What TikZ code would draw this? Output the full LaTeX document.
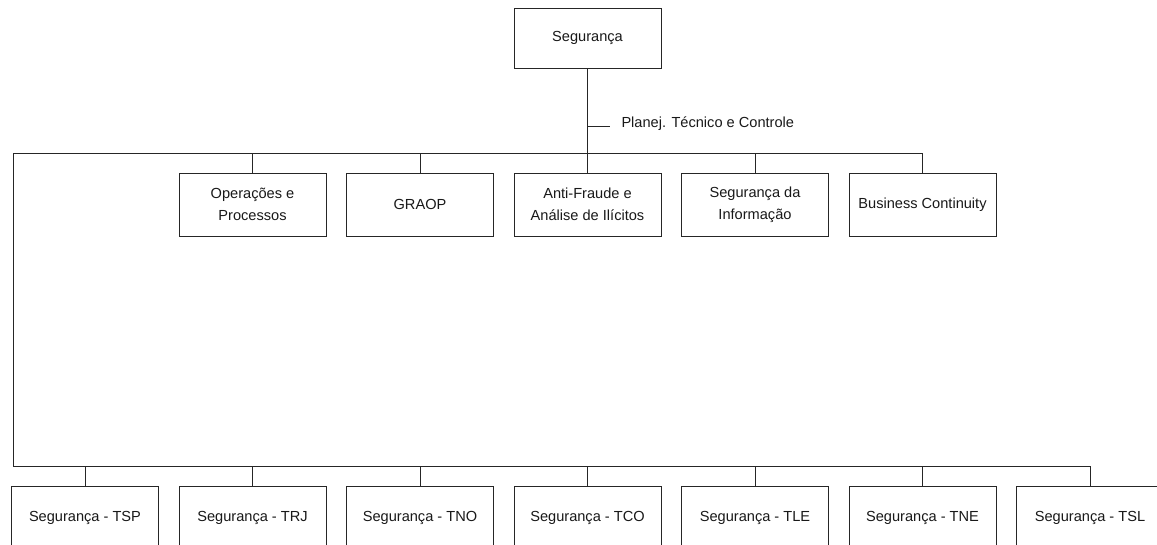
\documentclass[tikz,border=0pt]{standalone}
\usepackage{fontspec}
\setmainfont{Liberation Sans}
\begin{document}
\begin{tikzpicture}[x=1pt,y=-1pt,
  line width=1pt,
  every node/.style={font=\fontsize{14.6}{22}\selectfont, text=black!90},
  unit/.style={draw=black!85, fill=white, minimum width=147pt, minimum height=63pt,
    inner sep=0pt, align=center},
  topunit/.style={unit, minimum height=60pt},
  wire/.style={draw=black!85}]
\useasboundingbox (0,0) rectangle (1157,544);
\clip (0,0) rectangle (1157,544);

% head of the organisation
\node[topunit] (root) at (587.5,38) {Segurança};

% staff label on the trunk
\coordinate (tick) at (587.5,126);
\node[anchor=west, inner sep=0pt] (lbl) at (621,124) {Planej. Técnico e Controle};

% corners of the two buses
\coordinate (tl) at (13,153);
\coordinate (bl) at (13,466);

% middle row of departments
\node[unit] (m1) at (252.5,204.5) {Operações e\\Processos};
\node[unit] (m2) at (420,204.5) {GRAOP};
\node[unit] (m3) at (587.5,204.5) {Anti-Fraude e\\Análise de Ilícitos};
\node[unit] (m4) at (755,204.5) {Segurança da\\Informação};
\node[unit] (m5) at (922.5,204.5) {Business Continuity};

% bottom row of regional units
\node[unit] (b1) at (85,517.5) {Segurança - TSP};
\node[unit] (b2) at (252.5,517.5) {Segurança - TRJ};
\node[unit] (b3) at (420,517.5) {Segurança - TNO};
\node[unit] (b4) at (587.5,517.5) {Segurança - TCO};
\node[unit] (b5) at (755,517.5) {Segurança - TLE};
\node[unit] (b6) at (922.5,517.5) {Segurança - TNE};
\node[unit] (b7) at (1090,517.5) {Segurança - TSL};

% trunk and label tick
\draw[wire] (root.south) -- (root.south |- tl);
\draw[wire] (tick) -- ++(22,0);

% upper bus and drops
\draw[wire] (bl) -- (tl) -- (tl -| m5.north) -- (m5.north);
\foreach \n in {m1,m2,m3,m4}
  \draw[wire] (\n.north) -- (\n.north |- tl);

% lower bus and drops
\draw[wire] (bl) -- (bl -| b7.north) -- (b7.north);
\foreach \n in {b1,b2,b3,b4,b5,b6}
  \draw[wire] (\n.north) -- (\n.north |- bl);
\end{tikzpicture}
\end{document}
